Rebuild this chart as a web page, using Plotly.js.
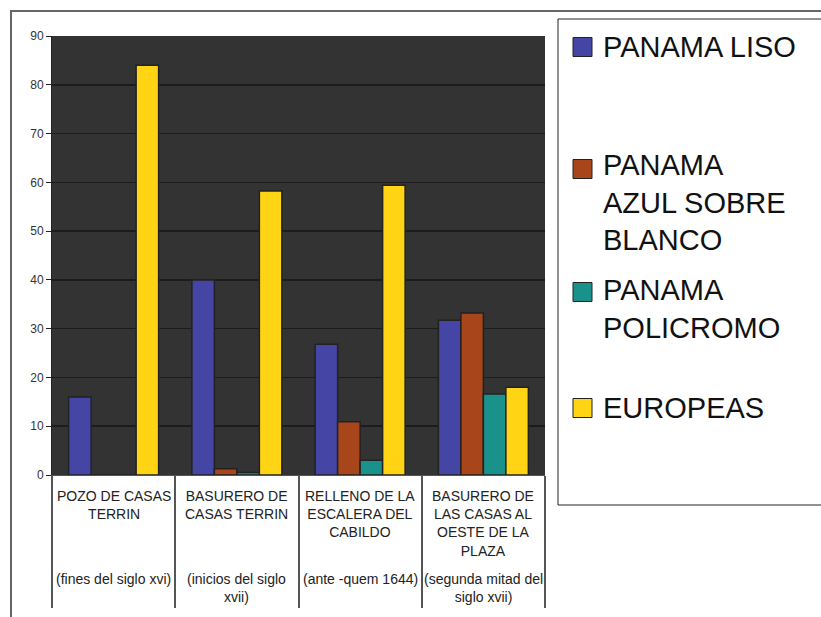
<!DOCTYPE html>
<html>
<head>
<meta charset="utf-8">
<script src="https://cdn.plot.ly/plotly-3.0.1.min.js"></script>
<style>html,body{margin:0;padding:0;background:#fff;}#chart{width:821px;height:617px;}</style>
</head>
<body>
<div id="chart"></div>
<script>
// ---- data ----
const categories = ["POZO DE CASAS TERRIN", "BASURERO DE CASAS TERRIN", "RELLENO DE LA ESCALERA DEL CABILDO", "BASURERO DE LAS CASAS AL OESTE DE LA PLAZA"];
const catLabels = ["POZO DE CASAS<br>TERRIN", "BASURERO DE<br>CASAS TERRIN", "RELLENO DE LA<br>ESCALERA DEL<br>CABILDO", "BASURERO DE<br>LAS CASAS AL<br>OESTE DE LA<br>PLAZA"];
const catPeriods = ["(fines del siglo xvi)", "(inicios del siglo<br>xvii)", "(ante -quem 1644)", "(segunda mitad del<br>siglo xvii)"];
const seriesNames = ["PANAMA LISO", "PANAMA AZUL SOBRE BLANCO", "PANAMA POLICROMO", "EUROPEAS"];
const legendLabels = ["PANAMA LISO", "PANAMA<br>AZUL SOBRE<br>BLANCO", "PANAMA<br>POLICROMO", "EUROPEAS"];
const panamaLiso = [16, 40, 26.8, 31.7];
const panamaAzul = [0, 1.3, 10.9, 33.2];
const panamaPolicromo = [0, 0.5, 3.0, 16.6];
const europeas = [84, 58.2, 59.4, 18.0];
const yTicks = [0, 10, 20, 30, 40, 50, 60, 70, 80, 90];

// ---- styling ----
const colors = ["#4545a5", "#a8451a", "#1a928c", "#ffd414"];
const W = 821, H = 617;
const L = 52, R = 545, T = 36, B = 475;
const px = x => (x - L) / (R - L);
const py = y => (B - y) / (B - T);
const font = "Liberation Sans, Arial, sans-serif";

const values = [panamaLiso, panamaAzul, panamaPolicromo, europeas];
const traces = values.map((v, i) => ({
  type: "bar",
  name: seriesNames[i],
  x: categories,
  y: v,
  marker: {color: colors[i], line: {color: "#222", width: 1.5}},
  showlegend: false,
  hoverinfo: "x+y+name"
}));

const shapes = [
  // outer frame
  {type: "rect", xref: "paper", yref: "paper", x0: px(11), x1: px(900), y0: py(700), y1: py(11),
   line: {color: "#666", width: 2}, fillcolor: "rgba(0,0,0,0)"},
  // legend box
  {type: "rect", xref: "paper", yref: "paper", x0: px(558), x1: px(900), y0: py(505), y1: py(19),
   line: {color: "#222", width: 1}, fillcolor: "rgba(0,0,0,0)"}
];
const legendY = [47, 169, 292, 408];
const legendMid = [47, 203, 309, 408];
const annotations = [];
legendLabels.forEach((lab, i) => {
  shapes.push({type: "rect", xref: "paper", yref: "paper",
    x0: px(573), x1: px(592), y0: py(legendY[i] + 9.5), y1: py(legendY[i] - 9.5),
    line: {color: "#222", width: 1}, fillcolor: colors[i]});
  annotations.push({xref: "paper", yref: "paper", x: px(601), y: py(legendMid[i]),
    xanchor: "left", yanchor: "middle", align: "left", showarrow: false,
    text: lab, font: {family: font, size: 29, color: "#111"}});
});
categories.forEach((c, i) => {
  annotations.push({xref: "x", yref: "paper", x: c, y: py(486), xanchor: "center", yanchor: "top",
    align: "center", showarrow: false, text: catLabels[i], font: {family: font, size: 14, color: "#222"}});
  annotations.push({xref: "x", yref: "paper", x: c, y: py(569), xanchor: "center", yanchor: "top",
    align: "center", showarrow: false, text: catPeriods[i], font: {family: font, size: 14, color: "#222"}});
});

const layout = {
  width: W, height: H,
  margin: {l: L, r: W - R, t: T, b: H - B, pad: 0},
  paper_bgcolor: "#ffffff",
  plot_bgcolor: "#333333",
  barmode: "group",
  bargap: 0.27,
  bargroupgap: 0,
  showlegend: false,
  font: {family: font},
  xaxis: {
    type: "category", automargin: false,
    tickson: "boundaries", ticks: "outside", ticklen: 132, tickwidth: 2, tickcolor: "#555",
    showticklabels: false, showline: true, linecolor: "#555", linewidth: 1,
    showgrid: false, fixedrange: true
  },
  yaxis: {
    range: [0, 90], automargin: false,
    tickvals: yTicks, ticktext: yTicks.map(String),
    ticks: "outside", ticklen: 5, tickcolor: "#222", tickwidth: 1,
    showline: true, linecolor: "#222", linewidth: 1,
    showgrid: true, gridcolor: "#1c1c1c", gridwidth: 1.5, zeroline: false,
    tickfont: {family: font, size: 12, color: "#333"}, fixedrange: true
  },
  shapes: shapes,
  annotations: annotations
};

Plotly.newPlot("chart", traces, layout, {displayModeBar: false, staticPlot: true});
</script>
</body>
</html>
